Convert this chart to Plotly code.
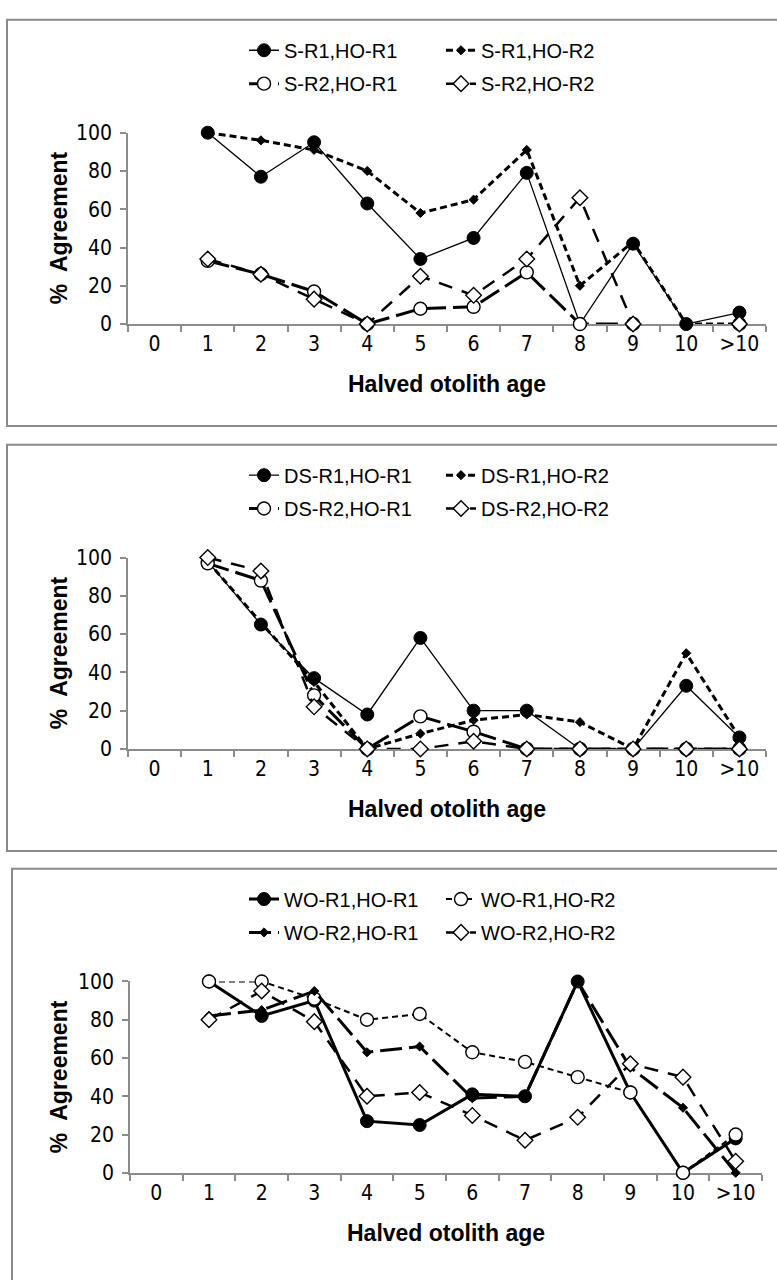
import plotly.graph_objects as go

# Age classes on the category axis
ages = ["0", "1", "2", "3", "4", "5", "6", "7", "8", "9", "10", ">10"]

# Panel 1: S readings vs halved otolith readings (% agreement)
s_r1_ho_r1 = [None, 100, 77, 95, 63, 34, 45, 79, 0, 42, 0, 6]
s_r1_ho_r2 = [None, 100, 96, 91, 80, 58, 65, 91, 20, 43, 0, 0]
s_r2_ho_r1 = [None, 33, 26, 17, 0, 8, 9, 27, 0, 0, None, 0]
s_r2_ho_r2 = [None, 34, 26, 13, 0, 25, 15, 34, 66, 0, None, 0]

# Panel 2: DS readings vs halved otolith readings
ds_r1_ho_r1 = [None, 98, 65, 37, 18, 58, 20, 20, 0, 0, 33, 6]
ds_r1_ho_r2 = [None, 98, 66, 35, 0, 8, 15, 18, 14, 0, 50, 6]
ds_r2_ho_r1 = [None, 97, 88, 28, 0, 17, 9, 0, 0, 0, 0, 0]
ds_r2_ho_r2 = [None, 100, 93, 22, 0, 0, 4, 0, 0, 0, 0, 0]

# Panel 3: WO readings vs halved otolith readings
wo_r1_ho_r1 = [None, 100, 82, 90, 27, 25, 41, 40, 100, 42, 0, 18]
wo_r1_ho_r2 = [None, 100, 100, 91, 80, 83, 63, 58, 50, 42, 0, 20]
wo_r2_ho_r1 = [None, 82, 85, 95, 63, 66, 39, 40, 100, 55, 34, 0]
wo_r2_ho_r2 = [None, 80, 95, 79, 40, 42, 30, 17, 29, 57, 50, 6]

y_ticks = [0, 20, 40, 60, 80, 100]

W, H = 777, 1280
FONT = "Liberation Sans, Arial, sans-serif"
NARROW = "Liberation Sans Narrow, Arial Narrow, DejaVu Sans Condensed, Liberation Sans, sans-serif"
AXIS_GREY = "#8c8c8c"


def px_x(v):
    return v / W


def px_y(v):
    return 1 - v / H


# line / marker styles
solid_thin = dict(color="black", width=1.3)
solid_thick = dict(color="black", width=3)
short_dash = dict(color="black", width=3, dash="7px,4px")
short_dash_thin = dict(color="black", width=2, dash="6px,4px")
long_dash = dict(color="black", width=3, dash="22px,7px")
mid_dash = dict(color="black", width=2.5, dash="14px,10px")

filled_circle = dict(symbol="circle", size=13, color="black",
                     line=dict(color="black", width=1))
filled_diamond = dict(symbol="diamond", size=7, color="black",
                      line=dict(color="black", width=1))
open_circle = dict(symbol="circle", size=13, color="white",
                   line=dict(color="black", width=1.4))
open_diamond = dict(symbol="diamond", size=12, color="white",
                    line=dict(color="black", width=1.4))

panels = [
    dict(
        series=[
            ("S-R1,HO-R1", s_r1_ho_r1, solid_thin, filled_circle),
            ("S-R1,HO-R2", s_r1_ho_r2, short_dash, filled_diamond),
            ("S-R2,HO-R1", s_r2_ho_r1, long_dash, open_circle),
            ("S-R2,HO-R2", s_r2_ho_r2, mid_dash, open_diamond),
        ],
        box=(7, 8, 790, 422), y0=318, y100=123, x0=128, x1=766,
    ),
    dict(
        series=[
            ("DS-R1,HO-R1", ds_r1_ho_r1, solid_thin, filled_circle),
            ("DS-R1,HO-R2", ds_r1_ho_r2, short_dash, filled_diamond),
            ("DS-R2,HO-R1", ds_r2_ho_r1, long_dash, open_circle),
            ("DS-R2,HO-R2", ds_r2_ho_r2, mid_dash, open_diamond),
        ],
        box=(7, 441, 790, 855), y0=751, y100=556, x0=128, x1=766,
    ),
    dict(
        series=[
            ("WO-R1,HO-R1", wo_r1_ho_r1, solid_thick, filled_circle),
            ("WO-R1,HO-R2", wo_r1_ho_r2, short_dash_thin, open_circle),
            ("WO-R2,HO-R1", wo_r2_ho_r1, long_dash, filled_diamond),
            ("WO-R2,HO-R2", wo_r2_ho_r2, mid_dash, open_diamond),
        ],
        box=(12, 873, 790, 1300), y0=1183, y100=988, x0=130, x1=762,
    ),
]

fig = go.Figure()
layout = dict(
    width=W, height=H,
    margin=dict(l=0, r=0, t=0, b=0),
    paper_bgcolor="white", plot_bgcolor="white",
    showlegend=True,
    shapes=[], annotations=[],
)

for i, p in enumerate(panels):
    n = i + 1
    xa = "x" if n == 1 else f"x{n}"
    ya = "y" if n == 1 else f"y{n}"
    xkey = "xaxis" if n == 1 else f"xaxis{n}"
    ykey = "yaxis" if n == 1 else f"yaxis{n}"
    leg_a = "legend" if i == 0 else f"legend{2 * i + 1}"
    leg_b = f"legend{2 * i + 2}"

    for k, (name, vals, line, marker) in enumerate(p["series"]):
        fig.add_trace(go.Scatter(
            x=ages, y=vals, name=name, mode="lines+markers",
            line=line, marker=marker, xaxis=xa, yaxis=ya,
            cliponaxis=False, connectgaps=False,
            legend=leg_a if k < 2 else leg_b,
        ))

    layout[xkey] = dict(
        domain=[px_x(p["x0"]), px_x(p["x1"])], anchor=ya,
        type="category", categoryorder="array", categoryarray=ages,
        range=[-0.5, len(ages) - 0.5],
        showline=True, linecolor=AXIS_GREY, linewidth=1.5,
        ticks="outside", tickson="boundaries", ticklen=6,
        tickcolor=AXIS_GREY, tickwidth=1.5,
        showgrid=False, zeroline=False, layer="below traces",
        tickfont=dict(family=NARROW, size=21, color="black"),
        fixedrange=True,
    )
    layout[ykey] = dict(
        domain=[px_y(p["y0"]), px_y(p["y100"])], anchor=xa,
        range=[0, 100], tickvals=y_ticks,
        showline=True, linecolor=AXIS_GREY, linewidth=1.5,
        ticks="outside", ticklen=6, tickcolor=AXIS_GREY, tickwidth=1.5,
        showgrid=False, zeroline=False, layer="below traces",
        tickfont=dict(family=NARROW, size=21, color="black"),
        ticklabelstandoff=4,
        fixedrange=True,
    )

    # panel frame
    bx0, by0, bx1, by1 = p["box"]
    layout["shapes"].append(dict(
        type="rect", xref="paper", yref="paper",
        x0=px_x(bx0), x1=px_x(bx1), y0=px_y(by1), y1=px_y(by0),
        line=dict(color="#8a8a8a", width=2), fillcolor="rgba(0,0,0,0)",
        layer="below",
    ))

    # axis titles
    layout["annotations"].append(dict(
        text="Halved otolith age", xref="paper", yref="paper",
        x=px_x((p["x0"] + p["x1"]) / 2), y=px_y(p["y0"] + 61),
        xanchor="center", yanchor="middle", showarrow=False,
        font=dict(family=FONT, size=23, color="black", weight="bold"),
    ))
    layout["annotations"].append(dict(
        text="%  Agreement", xref="paper", yref="paper",
        x=px_x(59), y=px_y((p["y0"] + p["y100"]) / 2),
        xanchor="center", yanchor="middle", textangle=-90, showarrow=False,
        font=dict(family=FONT, size=23, color="black", weight="bold"),
    ))

    # two-row legend above each plot
    top = p["box"][1]
    for key, row_y in ((leg_a, top + 31), (leg_b, top + 65)):
        layout[key] = dict(
            orientation="h", xref="paper", yref="paper",
            x=px_x(244), y=px_y(row_y), xanchor="left", yanchor="middle",
            font=dict(family=FONT, size=20, color="black"),
            bgcolor="rgba(0,0,0,0)", borderwidth=0,
            entrywidth=152, entrywidthmode="pixels",
            itemclick=False, itemdoubleclick=False,
        )

fig.update_layout(**layout)
fig.write_html("out.html")
